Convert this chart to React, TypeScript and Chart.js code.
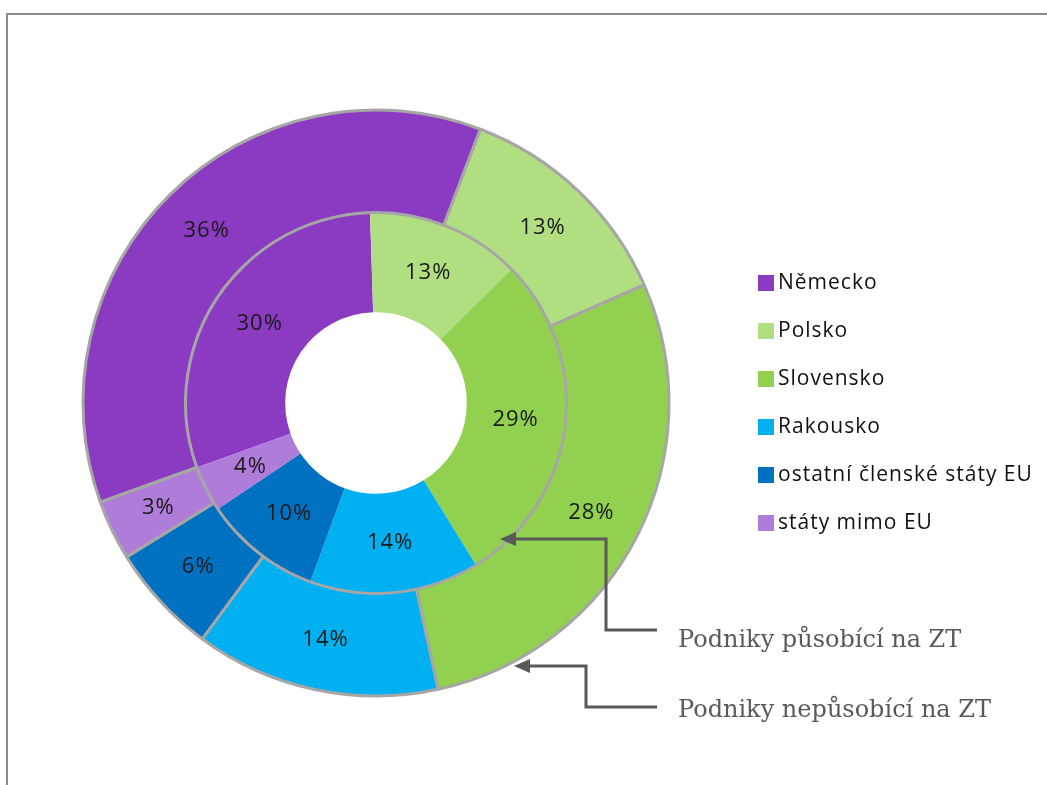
import React, { useEffect, useRef } from "react";
import { Chart, registerables } from "chart.js";

Chart.register(...registerables);

// ---- data ----
const categories = [
  "Německo",
  "Polsko",
  "Slovensko",
  "Rakousko",
  "ostatní členské státy EU",
  "státy mimo EU",
];
// outer ring: Podniky nepůsobící na ZT (shares in %)
const outerValues = [36.3, 12.6, 28.2, 13.5, 6.1, 3.3];
// inner ring: Podniky působící na ZT (shares in %)
const innerValues = [30.0, 13.1, 28.6, 14.4, 10.0, 3.9];
const seriesNames = ["Podniky nepůsobící na ZT", "Podniky působící na ZT"];
const colors = ["#8B3AC2", "#B2DE82", "#92D050", "#00B0F0", "#0070C0", "#B07CDA"];

const labelPlugin = {
  id: "pctLabels",
  afterDatasetsDraw(chart: any) {
    const ctx = chart.ctx;
    ctx.save();
    ctx.font = "22px 'Open Sans'";
    try { (ctx as any).letterSpacing = "1px"; } catch (e) {}
    ctx.fillStyle = "#1a1a1a";
    ctx.textAlign = "center";
    ctx.textBaseline = "middle";
    chart.data.datasets.forEach((ds: any, di: number) => {
      const meta = chart.getDatasetMeta(di);
      const total = ds.data.reduce((a: number, b: number) => a + b, 0);
      meta.data.forEach((arc: any, i: number) => {
        const p = arc.getCenterPoint();
        const pct = Math.round((ds.data[i] / total) * 100);
        ctx.fillText(pct + "%", p.x, p.y);
      });
    });
    ctx.restore();
  },
};

export default function App() {
  const ref = useRef<HTMLCanvasElement>(null);

  useEffect(() => {
    if (!ref.current) return;
    const chart = new Chart(ref.current, {
      type: "doughnut",
      data: {
        labels: categories,
        datasets: [
          {
            label: seriesNames[0],
            data: outerValues,
            backgroundColor: colors,
            borderColor: "#A6A6A6",
            borderWidth: 3,
            weight: 103,
          },
          {
            label: seriesNames[1],
            data: innerValues,
            backgroundColor: colors,
            borderWidth: 0,
            weight: 100,
          },
        ],
      },
      options: {
        responsive: false,
        animation: false,
        rotation: -109.8,
        cutout: "31%",
        radius: 293,
        layout: { padding: { left: 76, top: 103, right: 371, bottom: 82 } },
        plugins: {
          legend: { display: false },
          tooltip: { enabled: false },
        },
      } as any,
      plugins: [labelPlugin],
    });
    return () => chart.destroy();
  }, []);

  const legendTop = 271;
  const legendStep = 48;

  return (
    <div
      style={{
        position: "absolute",
        left: 0,
        top: 0,
        width: 1047,
        height: 785,
        overflow: "hidden",
        background: "#fff",
      }}
    >
      <div
        style={{
          position: "absolute",
          left: 6,
          top: 13,
          width: 1100,
          height: 900,
          border: "2px solid #8C8C8C",
          boxSizing: "border-box",
        }}
      />
      <canvas
        ref={ref}
        width={1047}
        height={785}
        style={{ position: "absolute", left: 0, top: 0, width: 1047, height: 785 }}
      />
      {categories.map((c, i) => (
        <div
          key={c}
          style={{
            position: "absolute",
            left: 758,
            top: legendTop + i * legendStep,
            height: 21,
            lineHeight: "21px",
            fontFamily: "'Open Sans'",
            fontSize: 21,
            letterSpacing: "1px",
            color: "#111",
            whiteSpace: "nowrap",
          }}
        >
          <span
            style={{
              position: "absolute",
              left: 0,
              top: 4,
              width: 16,
              height: 16,
              background: colors[i],
            }}
          />
          <span style={{ position: "absolute", left: 20, top: 0 }}>{c}</span>
        </div>
      ))}
      <svg
        width={1047}
        height={785}
        style={{ position: "absolute", left: 0, top: 0 }}
      >
        <polyline
          points="657,630 606,630 606,539 514,539"
          fill="none"
          stroke="#595959"
          strokeWidth={3}
        />
        <polygon points="500,539 516,532 516,546" fill="#595959" />
        <polyline
          points="657,707 586,707 586,666 528,666"
          fill="none"
          stroke="#595959"
          strokeWidth={3}
        />
        <polygon points="514,666 530,659 530,673" fill="#595959" />
      </svg>
      {[seriesNames[1], seriesNames[0]].map((s, i) => (
        <div
          key={s}
          style={{
            position: "absolute",
            left: 678,
            top: 627 + i * 70,
            lineHeight: "24px",
            height: 24,
            fontFamily: "'DejaVu Serif'",
            fontSize: 24,
            color: "#595959",
            whiteSpace: "nowrap",
          }}
        >
          {s}
        </div>
      ))}
    </div>
  );
}
